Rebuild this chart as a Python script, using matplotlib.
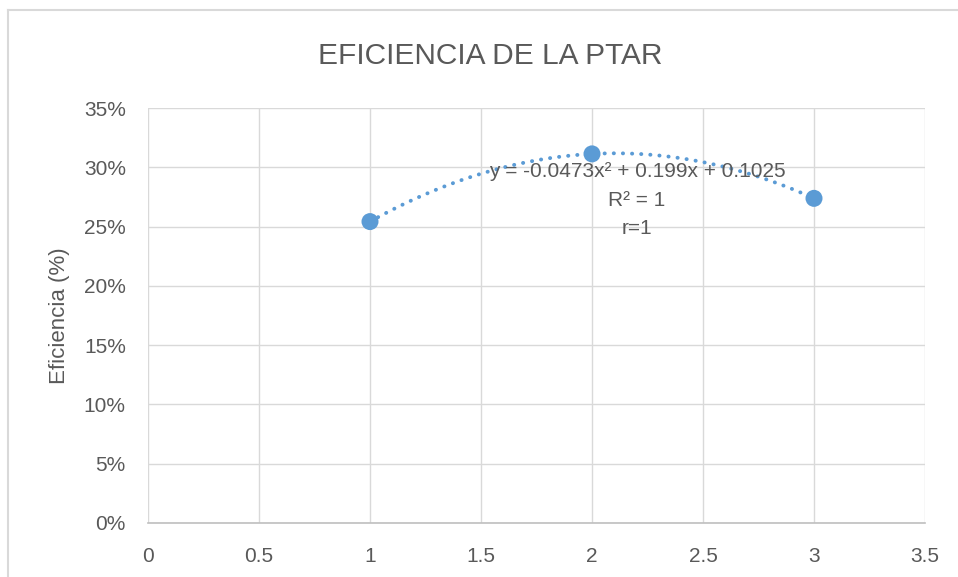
import numpy as np
import matplotlib
matplotlib.use("Agg")
import matplotlib.pyplot as plt
from matplotlib.ticker import FuncFormatter

plt.rcParams['font.family'] = ['Liberation Sans', 'DejaVu Sans']

# data
x_vals = [1, 2, 3]
eficiencia = [0.2542, 0.3113, 0.2738]
x_ticks = [0, 0.5, 1, 1.5, 2, 2.5, 3, 3.5]
y_ticks = [0, 0.05, 0.10, 0.15, 0.20, 0.25, 0.30, 0.35]

blue = '#5B9BD5'
txt = '#595959'
grid = '#D9D9D9'

fig = plt.figure(figsize=(9.58, 5.77), dpi=100)
ax = fig.add_axes([148/958, 1-523/577, (925-148)/958, (523-108)/577])

# chart border (Excel chart area), cropped on right/bottom
fig.add_artist(plt.Line2D([8/958, 8/958], [0, 1-10/577], color=grid, lw=1.5, transform=fig.transFigure))
fig.add_artist(plt.Line2D([8/958, 1], [1-10/577, 1-10/577], color=grid, lw=1.5, transform=fig.transFigure))

# polynomial trendline (order 2)
coef = np.polyfit(x_vals, eficiencia, 2)
xs = np.linspace(min(x_vals), max(x_vals), 400)
ax.plot(xs, np.polyval(coef, xs), color=blue, lw=2.8, ls=(0, (0.05, 2.3)),
        dash_capstyle='round', zorder=3)
ax.scatter(x_vals, eficiencia, s=150, color=blue, zorder=4, edgecolors='none')

ax.set_xlim(0, 3.5)
ax.set_ylim(0, 0.35)
ax.set_xticks(x_ticks)
ax.set_yticks(y_ticks)
ax.xaxis.set_major_formatter(FuncFormatter(lambda v, p: f'{v:g}'))
ax.yaxis.set_major_formatter(FuncFormatter(lambda v, p: f'{v*100:.0f}%'))
ax.grid(True, color=grid, lw=1.0)
ax.set_axisbelow(True)
for s in ['left', 'top', 'right']:
    ax.spines[s].set_visible(False)
ax.spines['bottom'].set_color('#BFBFBF')
ax.spines['bottom'].set_linewidth(1.2)
ax.tick_params(length=0, labelsize=15, colors=txt)
ax.tick_params(axis='y', pad=16)
ax.tick_params(axis='x', pad=17)

ax.set_ylabel('Eficiencia (%)', fontsize=16, color=txt)
ax.yaxis.set_label_coords((70-148)/777, 0.5)
fig.text(490/958, 1-56/577, 'EFICIENCIA DE LA PTAR', ha='center', va='center',
         fontsize=21.5, color=txt)

ax.text(637/958, 1-172/577, 'y = -0.0473x² + 0.199x + 0.1025', transform=fig.transFigure,
        ha='center', va='center', fontsize=15, color=txt)
ax.text(637/958, 1-200/577, 'R² = 1', transform=fig.transFigure,
        ha='center', va='center', fontsize=15, color=txt)
ax.text(637/958, 1-229/577, 'r=1', transform=fig.transFigure,
        ha='center', va='center', fontsize=15, color=txt)

fig.savefig('out.png', dpi=100)
